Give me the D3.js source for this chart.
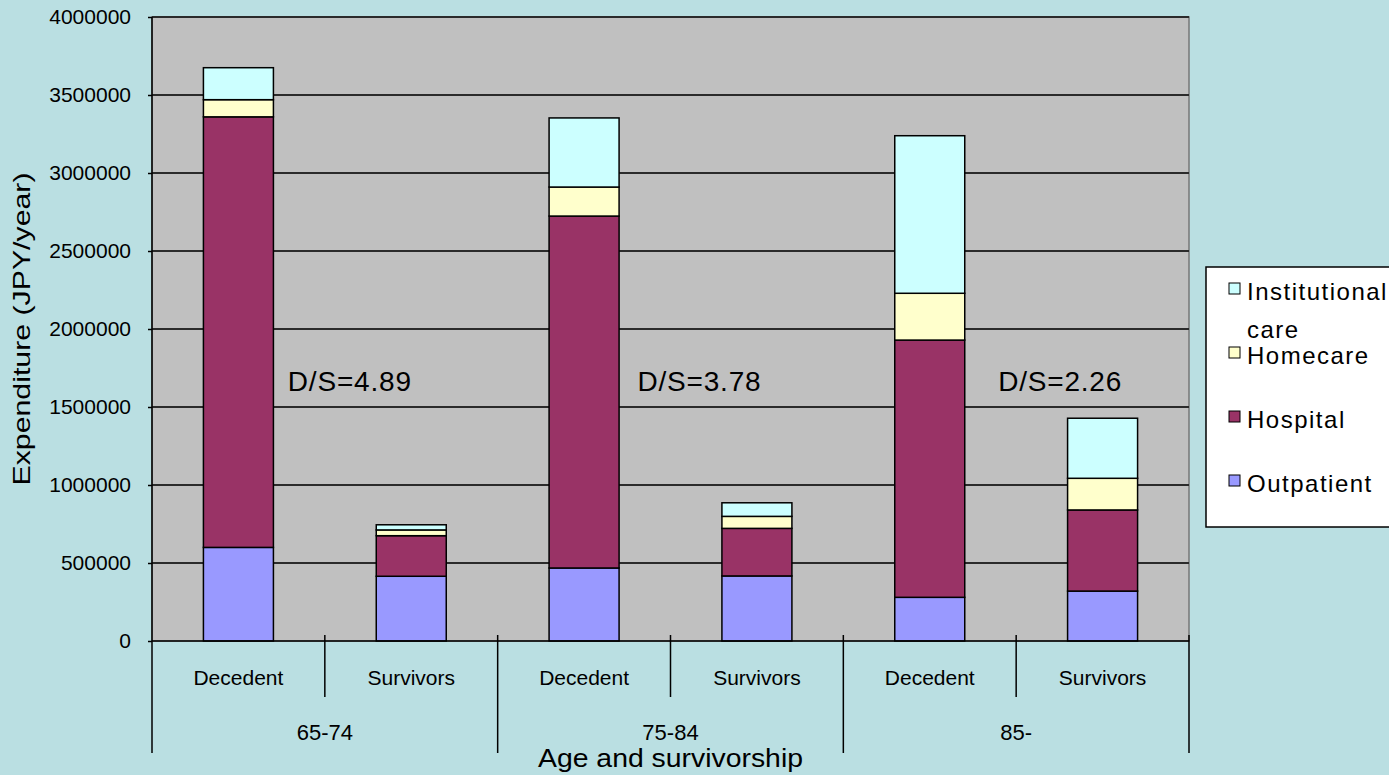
<!DOCTYPE html>
<html>
<head>
<meta charset="utf-8">
<script src="https://cdn.jsdelivr.net/npm/d3@7"></script>
<style>
  body { margin: 0; background: #BADFE2; }
  text { font-family: "Liberation Sans", Arial, sans-serif; fill: #000; }
</style>
</head>
<body>
<div id="chart"></div>
<script>
// Chart data
var groups = ["65-74", "75-84", "85-"];
var subgroups = ["Decedent", "Survivors"];
var outpatient = [600000, 415000, 468000, 417000, 280000, 320000];
var hospital = [2760000, 260000, 2256000, 305000, 1649000, 520000];
var homecare = [110000, 37000, 186000, 77000, 300000, 203000];
var institutional = [205000, 33000, 443000, 87000, 1010000, 385000];
var seriesNames = ["Outpatient", "Hospital", "Homecare", "Institutional care"];
var seriesColors = ["#9999FF", "#993366", "#FFFFCC", "#CCFFFF"];
var ratioLabels = ["D/S=4.89", "D/S=3.78", "D/S=2.26"];
var yTicks = [0, 500000, 1000000, 1500000, 2000000, 2500000, 3000000, 3500000, 4000000];

// SVG area
var svgWidth = 1389;
var svgHeight = 775;
var margin = { top: 17, right: 200, bottom: 134, left: 152 };
var width = 1189 - margin.left;
var height = svgHeight - margin.top - margin.bottom;

var svg = d3.select("#chart")
  .append("svg")
  .attr("width", svgWidth)
  .attr("height", svgHeight);

var chartGroup = svg.append("g")
  .attr("transform", `translate(${margin.left}, ${margin.top})`);

// build rows: one per bar
var rows = [];
groups.forEach(function(g, gi) {
  subgroups.forEach(function(s, si) {
    var i = gi * 2 + si;
    rows.push({
      key: g + "|" + s,
      group: g,
      sub: s,
      "Outpatient": outpatient[i],
      "Hospital": hospital[i],
      "Homecare": homecare[i],
      "Institutional care": institutional[i]
    });
  });
});

var xScale = d3.scaleBand()
  .domain(rows.map(d => d.key))
  .range([0, width])
  .paddingInner(0.595)
  .paddingOuter(0.2975);

var groupScale = d3.scaleBand()
  .domain(groups)
  .range([0, width]);

var yScale = d3.scaleLinear()
  .domain([0, 4000000])
  .range([height, 0]);

// plot background
chartGroup.append("rect")
  .attr("width", width)
  .attr("height", height)
  .attr("fill", "#C0C0C0")
  .attr("stroke", "#777")
  .attr("stroke-width", 1.5);

// gridlines + left axis
var leftAxis = d3.axisLeft(yScale)
  .tickValues(yTicks)
  .tickFormat(d3.format("d"))
  .tickSize(4)
  .tickPadding(17);

var yAxis = chartGroup.append("g").call(leftAxis);
yAxis.select(".domain").remove();
yAxis.selectAll("line").attr("stroke", "#000").attr("stroke-width", 1.5);
yAxis.selectAll("text").style("font-size", "21px");

chartGroup.append("g")
  .selectAll("line")
  .data(yTicks.filter(d => d > 0))
  .enter()
  .append("line")
  .attr("x1", 0)
  .attr("x2", width)
  .attr("y1", d => yScale(d))
  .attr("y2", d => yScale(d))
  .attr("stroke", "#2b2b2b")
  .attr("stroke-width", 2);

// stacked bars
var stack = d3.stack().keys(seriesNames);
var stacked = stack(rows);

chartGroup.append("g")
  .selectAll("g")
  .data(stacked)
  .enter()
  .append("g")
  .attr("fill", (d, i) => seriesColors[i])
  .selectAll("rect")
  .data(d => d)
  .enter()
  .append("rect")
  .attr("x", d => xScale(d.data.key))
  .attr("y", d => yScale(d[1]))
  .attr("width", xScale.bandwidth())
  .attr("height", d => yScale(d[0]) - yScale(d[1]))
  .attr("stroke", "#000")
  .attr("stroke-width", 1.5);

// axis lines
chartGroup.append("line")
  .attr("x1", 0).attr("x2", 0)
  .attr("y1", 0).attr("y2", height)
  .attr("stroke", "#000").attr("stroke-width", 1.5);

chartGroup.append("line")
  .attr("x1", 0).attr("x2", width)
  .attr("y1", height).attr("y2", height)
  .attr("stroke", "#000").attr("stroke-width", 1.5);

// category axis: sub labels and separators
var catGroup = chartGroup.append("g")
  .attr("transform", `translate(0, ${height})`);

catGroup.selectAll(".sub-label")
  .data(rows)
  .enter()
  .append("text")
  .attr("class", "sub-label")
  .attr("x", d => xScale(d.key) + xScale.bandwidth() / 2)
  .attr("y", 44)
  .attr("text-anchor", "middle")
  .style("font-size", "21px")
  .text(d => d.sub);

// separators between subgroups (inside each group)
catGroup.selectAll(".sub-sep")
  .data(groups)
  .enter()
  .append("line")
  .attr("class", "sub-sep")
  .attr("x1", d => groupScale(d) + groupScale.bandwidth() / 2)
  .attr("x2", d => groupScale(d) + groupScale.bandwidth() / 2)
  .attr("y1", -6)
  .attr("y2", 56)
  .attr("stroke", "#000")
  .attr("stroke-width", 1.5);

// group boundaries
var bounds = [0].concat(groups.map(g => groupScale(g) + groupScale.bandwidth()));
catGroup.selectAll(".grp-sep")
  .data(bounds)
  .enter()
  .append("line")
  .attr("class", "grp-sep")
  .attr("x1", d => d)
  .attr("x2", d => d)
  .attr("y1", (d, i) => i === 0 ? 0 : -6)
  .attr("y2", 112)
  .attr("stroke", "#000")
  .attr("stroke-width", 1.5);

catGroup.selectAll(".grp-label")
  .data(groups)
  .enter()
  .append("text")
  .attr("class", "grp-label")
  .attr("x", d => groupScale(d) + groupScale.bandwidth() / 2)
  .attr("y", 99)
  .attr("text-anchor", "middle")
  .style("font-size", "22px")
  .text(d => d);

// D/S ratio annotations
var ratioOffsets = [-37, -33, -18];
chartGroup.selectAll(".ratio")
  .data(ratioLabels)
  .enter()
  .append("text")
  .attr("class", "ratio")
  .attr("x", (d, i) => xScale(groups[i] + "|Survivors") - xScale.step() * 0.2975 + ratioOffsets[i])
  .attr("y", yScale(1600000))
  .style("font-size", "28px")
  .style("letter-spacing", "0.8px")
  .text(d => d);

// axis titles
svg.append("text")
  .attr("transform", `translate(30, ${margin.top + height / 2}) rotate(-90)`)
  .attr("text-anchor", "middle")
  .attr("textLength", 313)
  .attr("lengthAdjust", "spacingAndGlyphs")
  .style("font-size", "24px")
  .text("Expenditure (JPY/year)");

svg.append("text")
  .attr("x", margin.left + width / 2)
  .attr("y", 767)
  .attr("text-anchor", "middle")
  .attr("textLength", 265)
  .attr("lengthAdjust", "spacingAndGlyphs")
  .style("font-size", "25px")
  .text("Age and survivorship");

// legend
var legend = svg.append("g")
  .attr("transform", "translate(1206, 267)");

legend.append("rect")
  .attr("width", 200)
  .attr("height", 260)
  .attr("fill", "#fff")
  .attr("stroke", "#000")
  .attr("stroke-width", 1.5);

var legendOrder = seriesNames.slice().reverse();
var legendColors = seriesColors.slice().reverse();

var legendItems = legend.selectAll(".legend-item")
  .data(legendOrder)
  .enter()
  .append("g")
  .attr("class", "legend-item")
  .attr("transform", (d, i) => `translate(0, ${33 + i * 64})`);

legendItems.append("rect")
  .attr("x", 23)
  .attr("y", -17)
  .attr("width", 11)
  .attr("height", 11)
  .attr("fill", (d, i) => legendColors[i])
  .attr("stroke", "#000")
  .attr("stroke-width", 1);

legendItems.append("text")
  .attr("x", 41)
  .style("font-size", "24px")
  .style("letter-spacing", "1.5px")
  .each(function(d) {
    var words = d.split(" ");
    var t = d3.select(this);
    words.forEach(function(w, wi) {
      t.append("tspan")
        .attr("x", 41)
        .attr("dy", wi === 0 ? 0 : 38)
        .text(w);
    });
  });
</script>
</body>
</html>
